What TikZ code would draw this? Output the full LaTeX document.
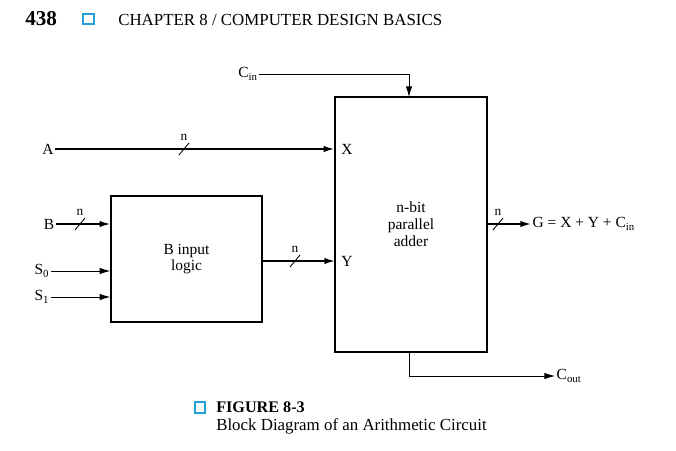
\documentclass[tikz,border=0pt]{standalone}
\usepackage{fontspec}
\setmainfont{Liberation Serif}
\usepackage{tikz}
\usetikzlibrary{arrows.meta,positioning,calc}
\definecolor{boxblue}{RGB}{35,160,220}

\begin{document}
\begin{tikzpicture}[
  x=0.025cm, y=-0.025cm,
  blk/.style={draw, line width=1pt, inner sep=0pt, align=center, font=\fontsize{11}{12}\selectfont},
  sig/.style={-{Latex[length=7.5pt,width=4.5pt]}, line width=0.6pt},
  bus/.style={-{Latex[length=7.5pt,width=4.5pt]}, line width=1.1pt},
  lbl/.style={inner sep=1pt, font=\fontsize{11}{13}\selectfont},
  nlbl/.style={inner sep=0pt, font=\fontsize{9.5}{11}\selectfont},
  bluesq/.style={draw=boxblue, line width=1.4pt}
]
\useasboundingbox (0,0) rectangle (676,451);

% page header
\node[anchor=west, inner sep=0pt, font=\fontsize{15}{17}\selectfont\bfseries] (page) at (25,19) {438};
\draw[bluesq] (83,14) rectangle (94,24);
\node[anchor=west, inner sep=0pt, font=\fontsize{12}{14}\selectfont] (chap) at (118,20) {CHAPTER 8 / COMPUTER DESIGN BASICS};

% blocks
\node[blk, minimum width=3.8cm, minimum height=6.375cm] (adder) at (411,224.5) {n-bit\\parallel\\adder};
\node[blk, minimum width=3.775cm, minimum height=3.15cm] (bil) at (186.5,259) {B input\\logic};

% inputs
\node[lbl] (A) at (48,149) {A};
\node[lbl] (B) at (49,224) {B};
\node[lbl] (S0) at (42,271) {S\textsubscript{0}};
\node[lbl] (S1) at (42,297) {S\textsubscript{1}};
\node[lbl] (X) at (347,149) {X};
\node[lbl] (Y) at (347,261) {Y};
\node[lbl] (cin) at (248,74) {C\textsubscript{in}};
\node[lbl, anchor=west] (G) at (531,224) {G = X + Y + C\textsubscript{in}};
\node[lbl, anchor=west] (cout) at (555,376) {C\textsubscript{out}};
\coordinate (yin) at (335,261);
\coordinate (cdn) at (409,97);
\coordinate (cup) at (409,352);

\draw[bus] (A) -- (A -| adder.west);
\draw[bus] (B) -- (B -| bil.west);
\draw[sig] (S0) -- (S0 -| bil.west);
\draw[sig] (S1) -- (S1 -| bil.west);
\draw[bus] (bil.east |- yin) -- (yin);
\draw[bus] (adder.east |- G) -- (G);
\draw[sig] (cin) -| (cdn);
\draw[sig] (cup) |- (cout);

% bus width marks
\foreach \px/\py in {184/149, 80/224, 295/261, 498/224} {
  \draw[line width=0.6pt] (\px-5,\py+6) -- (\px+5,\py-6);
  \node[nlbl] at (\px,\py-12) {n};
}

% caption
\draw[bluesq] (195,402) rectangle (205,413);
\node[anchor=west, inner sep=0pt, font=\fontsize{11.5}{13}\selectfont\bfseries] (fig) at (216,407) {FIGURE 8-3};
\node[anchor=west, inner sep=0pt, font=\fontsize{12}{14}\selectfont] (cap) at (216,426) {Block Diagram of an Arithmetic Circuit};
\end{tikzpicture}
\end{document}
